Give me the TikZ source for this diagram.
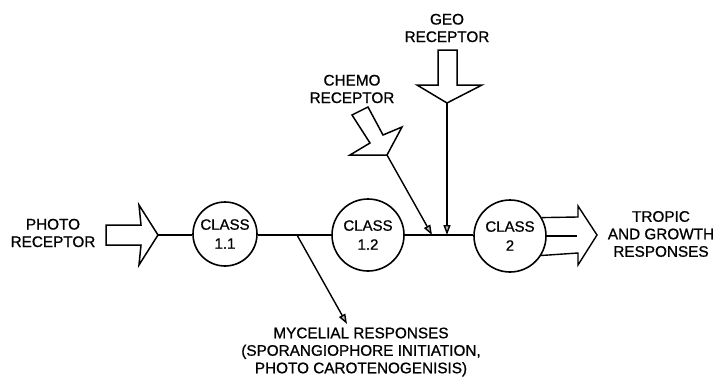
\documentclass[tikz,border=0pt]{standalone}
\usepackage{fontspec}
\setmainfont{Liberation Sans}[FakeBold=0.9]
\usetikzlibrary{arrows.meta}
\tikzset{
  lbl/.style={align=center, font=\fontsize{15.3}{17.5}\selectfont, inner sep=0pt},
  cls/.style={draw, circle, line width=1.6pt, inner sep=0pt, align=center, font=\fontsize{15}{19}\selectfont},
  wire/.style={line width=1.4pt},
  bigarrow/.style={draw, line width=1.5pt, line join=miter, fill=white},
  ptr/.style={wire, -{Triangle[length=10pt,width=7pt,fill=gray!55]}}
}
\begin{document}
\begin{tikzpicture}[x=1pt,y=-1pt]
\useasboundingbox (0,0) rectangle (716,380);

% class nodes
\node[cls, minimum size=64pt] (c11) at (225,234) {CLASS\\1.1};
\node[cls, minimum size=72pt] (c12) at (368,235) {CLASS\\1.2};
\node[cls, minimum size=72pt] (c2) at (510,236) {CLASS\\2};

% labels
\node[lbl] (photo) at (53,233) {PHOTO\\RECEPTOR};
\node[lbl] (geo) at (447,28) {GEO\\RECEPTOR};
\node[lbl] (chemo) at (352,89) {CHEMO\\RECEPTOR};
\node[lbl] (tropic) at (661,234) {TROPIC\\AND GROWTH\\RESPONSES};
\node[lbl] (myc) at (361,352) {MYCELIAL RESPONSES\\(SPORANGIOPHORE INITIATION,\\PHOTO CAROTENOGENISIS)};

% photo receptor arrow
\coordinate (ptip) at (158,235);
\path[bigarrow] (106,225) -- (141,225) -- (139,205) -- (ptip) -- (139,265) -- (141,245) -- (106,245) -- cycle;
\draw[wire] (ptip) -- (c11.west |- ptip);

% main line
\coordinate (j1) at (297,235);
\coordinate (j2) at (432,235);
\coordinate (j3) at (447,235);
\draw[wire] (c11.east |- j1) -- (c12.west |- j1);
\draw[wire] (c12.east |- j2) -- (c2.west |- j2);

% mycelial output
\coordinate (mend) at (347,324);
\draw[ptr] (j1) -- (mend);

% geo receptor
\coordinate (gtip) at (447,103);
\path[bigarrow] (438,50) -- (457,50) -- (457,85) -- (482,85) -- (gtip) -- (417,85) -- (438,85) -- cycle;
\draw[ptr] (gtip) -- (j3);

% chemo receptor
\coordinate (ctip) at (387,155);
\path[bigarrow] (352,115) -- (368,107) -- (383,135) -- (402,127) -- (ctip) -- (350,155) -- (370,143) -- cycle;
\draw[ptr] (ctip) -- (j2);

% class 2 output arrow
\coordinate (otip) at (597,235);
\draw[wire, line join=miter] (c2.-32) -- (578,253) -- (578,265) -- (otip) -- (578,206) -- (578,217) -- (c2.30);
\draw[wire] (c2.east) -- (577,236);
\end{tikzpicture}
\end{document}
